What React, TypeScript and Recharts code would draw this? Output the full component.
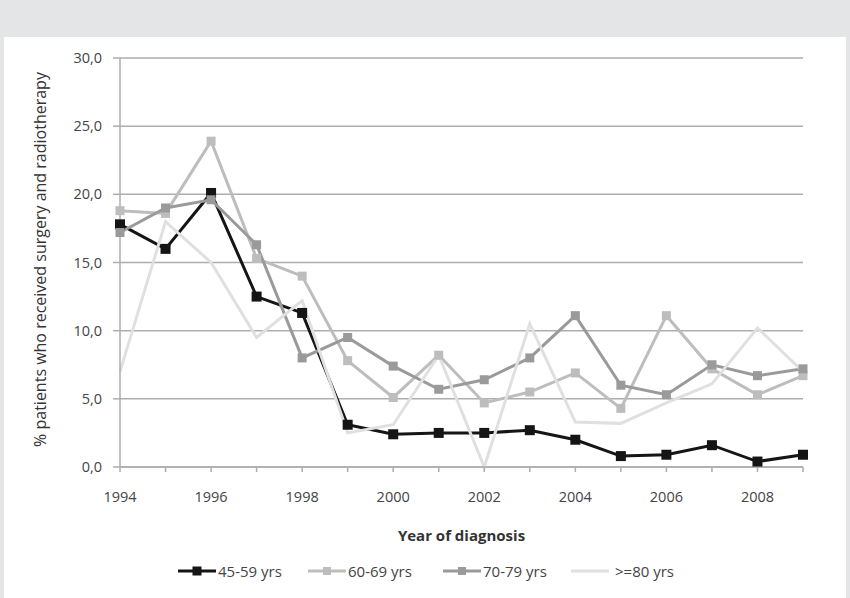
import React from 'react';
import { LineChart, Line, XAxis, YAxis, CartesianGrid, Legend } from 'recharts';

const years = [1994, 1995, 1996, 1997, 1998, 1999, 2000, 2001, 2002, 2003, 2004, 2005, 2006, 2007, 2008, 2009];
const s4559 = [17.8, 16.0, 20.1, 12.5, 11.3, 3.1, 2.4, 2.5, 2.5, 2.7, 2.0, 0.8, 0.9, 1.6, 0.4, 0.9];
const s6069 = [18.8, 18.6, 23.9, 15.3, 14.0, 7.8, 5.1, 8.2, 4.7, 5.5, 6.9, 4.3, 11.1, 7.2, 5.3, 6.7];
const s7079 = [17.2, 19.0, 19.6, 16.3, 8.0, 9.5, 7.4, 5.7, 6.4, 8.0, 11.1, 6.0, 5.3, 7.5, 6.7, 7.2];
const s80 = [7.0, 18.0, 15.0, 9.5, 12.2, 2.5, 3.1, 8.2, 0.0, 10.5, 3.3, 3.2, 4.7, 6.1, 10.2, 7.0];
const seriesNames = ['45-59 yrs', '60-69 yrs', '70-79 yrs', '>=80 yrs'];
const yTicks = [0, 5, 10, 15, 20, 25, 30];
const xLabelYears = [1994, 1996, 1998, 2000, 2002, 2004, 2006, 2008];

const data = years.map((y, i) => ({ year: y, a: s4559[i], b: s6069[i], c: s7079[i], d: s80[i] }));

const FONT = '"Open Sans", sans-serif';
const colors = ['#151515', '#bdbdbd', '#9a9a9a', '#e0e0e0'];
const keys = ['a', 'b', 'c', 'd'];
const markerSizes = [10, 9, 9, 0];

const squareDot = (color: string, size: number) => (props: any) => {
  const { cx, cy, index } = props;
  if (cx == null || cy == null || size === 0) return <g key={`e${index}`} />;
  return <rect key={`r${index}`} x={cx - size / 2} y={cy - size / 2} width={size} height={size} fill={color} />;
};

const legendItemWidths = [130, 135, 128, 110];

const LegendContent = () => (
  <div style={{ display: 'flex', fontFamily: FONT, fontSize: 15, color: '#444', alignItems: 'center' }}>
    {seriesNames.map((n, i) => (
      <div key={n} style={{ display: 'flex', alignItems: 'center', width: legendItemWidths[i] }}>
        <svg width={40} height={12} style={{ display: 'block' }}>
          <line x1={1} y1={6} x2={39} y2={6} stroke={colors[i]} strokeWidth={3} />
          {markerSizes[i] > 0 && (
            <rect x={20 - markerSizes[i] / 2 + 0.5} y={6 - markerSizes[i] / 2 + 0.5} width={markerSizes[i] - 1} height={markerSizes[i] - 1} fill={colors[i]} />
          )}
        </svg>
        <span style={{ marginLeft: i === 3 ? 5 : 1 }}>{n}</span>
      </div>
    ))}
  </div>
);

export default function App() {
  return (
    <div style={{ position: 'absolute', left: 0, top: 0, width: 850, height: 598, background: '#e4e5e7', overflow: 'hidden' }}>
      <div style={{ position: 'absolute', left: 4, top: 37, width: 842, height: 561, background: '#ffffff' }} />
      <div style={{ position: 'absolute', left: 0, top: 0 }}>
        <LineChart width={850} height={598} data={data} margin={{ top: 58, right: 47, left: 0, bottom: 51 }}>
          <CartesianGrid vertical={false} stroke="#adadad" strokeWidth={1.5} />
          <XAxis
            dataKey="year"
            type="number"
            domain={[1994, 2009]}
            ticks={years}
            interval={0}
            height={80}
            tickFormatter={(v: number) => (xLabelYears.includes(v) ? String(v) : '')}
            tick={{ fontFamily: FONT, fontSize: 14.5, fill: '#444' }}
            tickSize={5}
            tickMargin={20}
            axisLine={{ stroke: '#adadad', strokeWidth: 1.5 }}
            tickLine={{ stroke: '#adadad', strokeWidth: 1.5 }}
            label={{
              content: (p: any) => {
                const vb = p.viewBox;
                return (
                  <text x={vb.x + vb.width / 2} y={541} textAnchor="middle" fontFamily={FONT} fontSize={15} fontWeight="bold" fill="#333">
                    Year of diagnosis
                  </text>
                );
              },
            }}
          />
          <YAxis
            type="number"
            domain={[0, 30]}
            ticks={yTicks}
            width={120}
            tickFormatter={(v: number) => v.toFixed(1).replace('.', ',')}
            tick={{ fontFamily: FONT, fontSize: 14.5, fill: '#444' }}
            tickSize={7}
            tickMargin={11}
            axisLine={{ stroke: '#adadad', strokeWidth: 1.5 }}
            tickLine={{ stroke: '#adadad', strokeWidth: 1.5 }}
            label={{
              content: (p: any) => {
                const vb = p.viewBox;
                const cy = vb.y + vb.height / 2 - 3;
                return (
                  <text x={46} y={cy} transform={`rotate(-90 46 ${cy})`} textAnchor="middle" fontFamily={FONT} fontSize={16} fill="#333">
                    % patients who received surgery and radiotherapy
                  </text>
                );
              },
            }}
          />
          <Legend
            verticalAlign="middle"
            align="center"
            layout="horizontal"
            content={<LegendContent />}
            wrapperStyle={{ top: 561, left: 177, width: 560 }}
          />
          {keys.map((k, i) => (
            <Line
              key={k}
              dataKey={k}
              name={seriesNames[i]}
              type="linear"
              stroke={colors[i]}
              strokeWidth={3}
              dot={squareDot(colors[i], markerSizes[i])}
              activeDot={false}
              isAnimationActive={false}
            />
          ))}
        </LineChart>
      </div>
    </div>
  );
}
